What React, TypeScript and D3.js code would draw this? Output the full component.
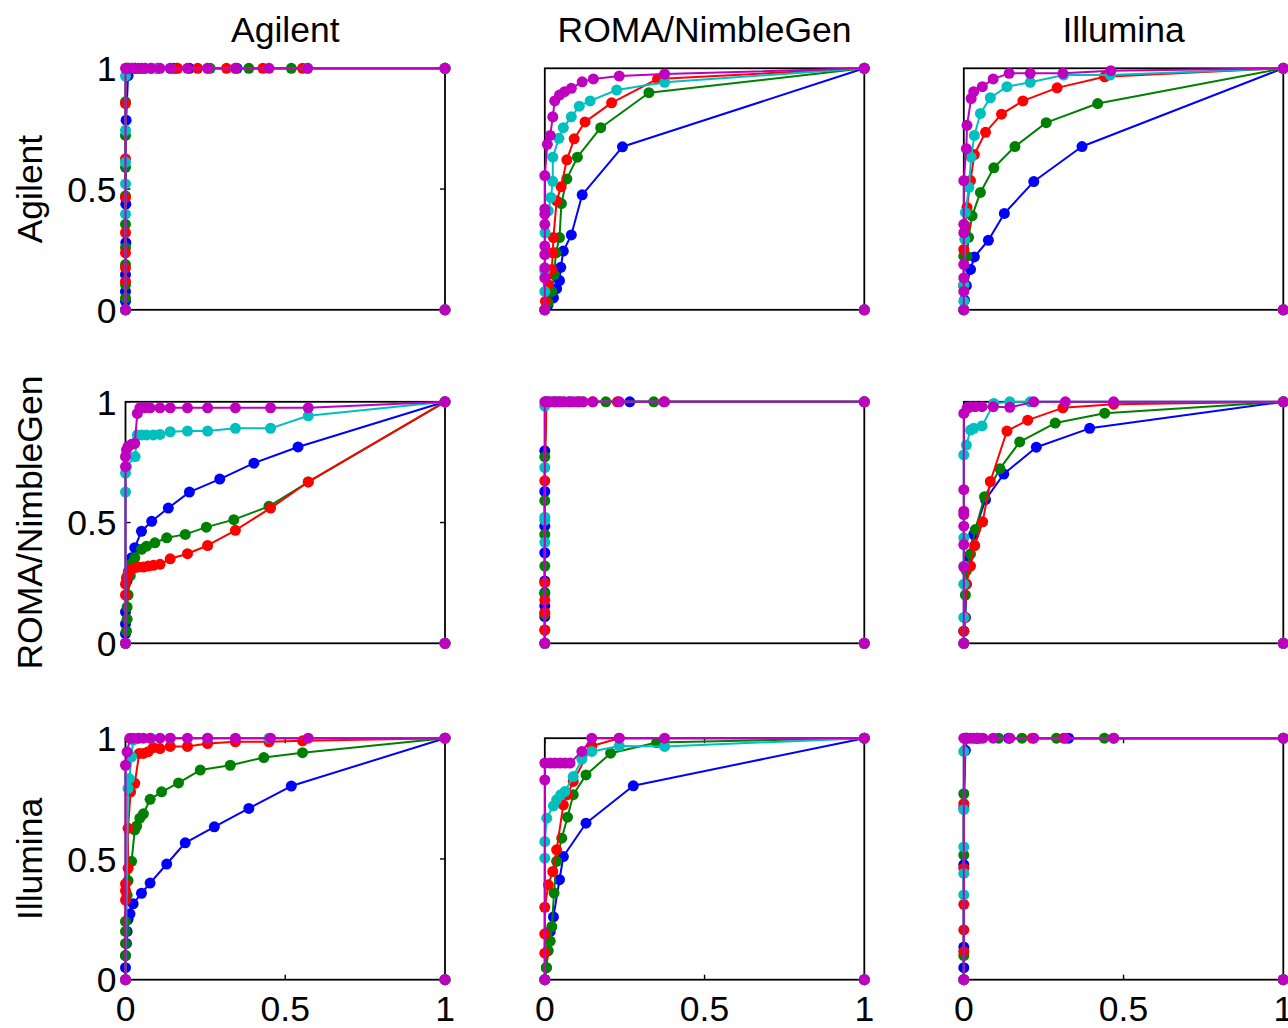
import React from "react";
import * as d3 from "d3";

type Pt = [number, number];

const platforms = ["Agilent", "ROMA/NimbleGen", "Illumina"];
const seriesColors = ["#0000ff", "#008000", "#ff0000", "#00bfbf", "#bf00bf"];
const tickValues = [0, 0.5, 1];
const tickLabels = ["0", "0.5", "1"];
const extraPoints: Pt[] = [[1, 0]];

// rows: y-axis platform, cols: title platform; each panel = [blue, green, red, cyan, magenta]
const P11: Pt[][] = [
  [[0,0],[0,0.035],[0,0.076],[0,0.146],[0.001,0.278],[0.001,0.4375],[0.002,0.785],[0.008,0.97],[0.01,1],[0.03,1],[0.06,1],[0.1,1],[0.15,1],[0.2,1],[0.349,1],[1,1]],
  [[0,0],[0,0.049],[0,0.104],[0,0.1875],[0,0.257],[0,0.354],[0,0.472],[0,0.59],[0,0.722],[0,0.861],[0.003,1],[0.02,1],[0.05,1],[0.1,1],[0.16,1],[0.265,1],[0.386,1],[0.519,1],[1,1]],
  [[0,0],[0,0.118],[0,0.174],[0,0.236],[0,0.319],[0,0.465],[0,0.625],[0,0.854],[0.003,1],[0.03,1],[0.08,1],[0.163,1],[0.226,1],[0.316,1],[0.43,1],[0.554,1],[1,1]],
  [[0,0],[0,0.396],[0,0.521],[0,0.611],[0,0.743],[0,0.968],[0.005,1],[0.04,1],[0.1,1],[0.14,1],[0.257,1],[0.344,1],[0.57,1],[1,1]],
  [[0,0],[0,1],[0.005,1],[0.01,1],[0.02,1],[0.03,1],[0.04,1],[0.05,1],[0.06,1],[0.08,1],[0.108,1],[0.14,1],[0.194,1],[0.257,1],[0.344,1],[0.449,1],[0.57,1],[1,1]],
];

const P12: Pt[][] = [
  [[0,0],[0.01,0.02],[0.027,0.049],[0.037,0.0875],[0.046,0.121],[0.05,0.176],[0.058,0.243],[0.083,0.31],[0.117,0.476],[0.243,0.675],[1,1]],
  [[0,0],[0.01,0.03],[0.022,0.076],[0.029,0.146],[0.035,0.236],[0.046,0.299],[0.052,0.44],[0.069,0.542],[0.102,0.632],[0.175,0.754],[0.326,0.899],[1,1]],
  [[0,0],[0.002,0.035],[0.011,0.104],[0.022,0.167],[0.025,0.236],[0.027,0.299],[0.037,0.451],[0.051,0.51],[0.069,0.621],[0.092,0.708],[0.126,0.778],[0.209,0.857],[0.353,0.956],[1,1]],
  [[0,0],[0,0.076],[0,0.16],[0.001,0.319],[0.011,0.41],[0.019,0.465],[0.025,0.532],[0.025,0.632],[0.044,0.71],[0.058,0.754],[0.083,0.799],[0.108,0.843],[0.142,0.865],[0.225,0.91],[0.375,0.942],[1,1]],
  [[0,0],[0,0.132],[0,0.174],[0,0.229],[0,0.264],[0,0.354],[0,0.396],[0,0.417],[0,0.556],[0.008,0.685],[0.017,0.722],[0.025,0.799],[0.031,0.865],[0.046,0.889],[0.062,0.903],[0.083,0.917],[0.117,0.944],[0.152,0.956],[0.233,0.968],[0.375,0.976],[1,1]],
];

const P13: Pt[][] = [
  [[0,0],[0.002,0.04],[0.008,0.1],[0.021,0.167],[0.033,0.219],[0.077,0.288],[0.127,0.399],[0.219,0.531],[0.37,0.676],[1,1]],
  [[0,0],[0,0.1],[0,0.222],[0.01,0.222],[0.015,0.3],[0.026,0.389],[0.052,0.486],[0.094,0.588],[0.16,0.676],[0.258,0.775],[0.419,0.854],[1,1]],
  [[0,0],[0,0.1],[0,0.25],[0.005,0.347],[0.01,0.424],[0.021,0.535],[0.033,0.643],[0.068,0.735],[0.118,0.81],[0.185,0.865],[0.292,0.919],[0.441,0.965],[1,1]],
  [[0,0],[0,0.035],[0,0.104],[0.003,0.292],[0.005,0.403],[0.016,0.507],[0.023,0.632],[0.033,0.722],[0.052,0.813],[0.083,0.878],[0.135,0.924],[0.208,0.942],[0.3125,0.972],[0.458,0.972],[1,1]],
  [[0,0],[0,0.076],[0,0.132],[0,0.188],[0,0.319],[0,0.354],[0,0.535],[0.008,0.667],[0.01,0.764],[0.023,0.875],[0.031,0.903],[0.058,0.924],[0.092,0.956],[0.142,0.979],[0.208,0.979],[0.31,0.979],[0.46,0.99],[1,1]],
];

const P21: Pt[][] = [
  [[0,0],[0,0.04],[0,0.08],[0,0.13],[0.003,0.2],[0.005,0.26],[0.01,0.3],[0.019,0.354],[0.029,0.396],[0.05,0.464],[0.082,0.505],[0.134,0.56],[0.2,0.626],[0.295,0.68],[0.402,0.746],[0.54,0.813],[1,1]],
  [[0,0],[0.003,0.05],[0.005,0.1],[0.005,0.15],[0.008,0.2],[0.015,0.28],[0.02,0.33],[0.029,0.354],[0.05,0.389],[0.066,0.402],[0.092,0.416],[0.129,0.437],[0.187,0.451],[0.253,0.481],[0.339,0.512],[0.449,0.567],[0.572,0.668],[1,1]],
  [[0,0],[0,0.2],[0,0.245],[0.003,0.272],[0.008,0.286],[0.014,0.3],[0.024,0.31],[0.04,0.316],[0.056,0.316],[0.071,0.32],[0.087,0.323],[0.108,0.327],[0.14,0.35],[0.194,0.371],[0.257,0.405],[0.344,0.468],[0.454,0.56],[0.572,0.668],[1,1]],
  [[0,0],[0,0.626],[0,0.705],[0.003,0.732],[0.03,0.773],[0.037,0.863],[0.05,0.863],[0.066,0.863],[0.087,0.863],[0.108,0.865],[0.14,0.876],[0.194,0.879],[0.257,0.879],[0.344,0.89],[0.454,0.89],[0.572,0.942],[1,1]],
  [[0,0],[0,0.732],[0,0.773],[0.003,0.801],[0.008,0.815],[0.019,0.824],[0.029,0.828],[0.037,0.952],[0.045,0.975],[0.061,0.975],[0.077,0.975],[0.108,0.975],[0.14,0.975],[0.194,0.975],[0.257,0.975],[0.344,0.975],[0.454,0.975],[0.572,0.975],[1,1]],
];

const P22: Pt[][] = [
  [[0,0],[0,0.11],[0,0.155],[0,0.21],[0,0.258],[0,0.375],[0,0.485],[0,0.629],[0,0.797],[0.005,1],[0.03,1],[0.08,1],[0.266,1],[1,1]],
  [[0,0],[0,0.055],[0,0.121],[0,0.206],[0,0.32],[0,0.451],[0,0.591],[0,0.772],[0.005,1],[0.04,1],[0.1,1],[0.191,1],[0.341,1],[1,1]],
  [[0,0],[0,0.055],[0,0.128],[0,0.179],[0,0.251],[0,0.673],[0.005,1],[0.05,1],[0.11,1],[0.15,1],[0.227,1],[0.3725,1],[1,1]],
  [[0,0],[0,0.418],[0,0.51],[0,0.522],[0,0.728],[0,0.982],[0.01,1],[0.06,1],[0.12,1],[1,1]],
  [[0,0],[0,1],[0.01,1],[0.02,1],[0.03,1],[0.045,1],[0.06,1],[0.075,1],[0.09,1],[0.105,1],[0.12,1],[0.15,1],[0.233,1],[0.375,1],[1,1]],
];

const P23: Pt[][] = [
  [[0,0],[0,0.05],[0.005,0.107],[0.008,0.245],[0.015,0.36],[0.031,0.451],[0.068,0.595],[0.125,0.701],[0.227,0.812],[0.394,0.89],[1,1]],
  [[0,0],[0.005,0.2],[0.008,0.3],[0.021,0.37],[0.036,0.471],[0.065,0.607],[0.113,0.723],[0.175,0.834],[0.286,0.912],[0.441,0.953],[1,1]],
  [[0,0],[0,0.05],[0.003,0.107],[0.008,0.245],[0.021,0.32],[0.034,0.405],[0.059,0.503],[0.083,0.67],[0.135,0.879],[0.2,0.924],[0.31,0.975],[0.469,0.99],[1,1]],
  [[0,0],[0,0.107],[0,0.245],[0,0.32],[0,0.437],[0,0.78],[0.008,0.821],[0.021,0.883],[0.031,0.89],[0.057,0.9],[0.094,0.993],[0.144,1],[0.208,1],[1,1]],
  [[0,0],[0,0.316],[0,0.409],[0,0.485],[0,0.533],[0,0.547],[0,0.636],[0,0.952],[0.01,0.973],[0.021,0.98],[0.036,0.98],[0.057,0.98],[0.092,0.98],[0.144,0.977],[0.219,1],[0.318,1],[0.469,1],[1,1]],
];

const P31: Pt[][] = [
  [[0,0],[0,0.05],[0,0.1],[0.003,0.15],[0.005,0.2],[0.008,0.25],[0.014,0.273],[0.024,0.314],[0.05,0.358],[0.077,0.4],[0.129,0.479],[0.187,0.567],[0.278,0.633],[0.386,0.709],[0.519,0.802],[1,1]],
  [[0,0],[0,0.1],[0,0.15],[0,0.2],[0,0.241],[0.005,0.35],[0.008,0.41],[0.019,0.49],[0.029,0.62],[0.035,0.636],[0.045,0.669],[0.056,0.687],[0.077,0.747],[0.113,0.778],[0.166,0.815],[0.234,0.868],[0.328,0.888],[0.433,0.92],[0.554,0.94],[1,1]],
  [[0,0],[0,0.33],[0,0.369],[0,0.397],[0.008,0.461],[0.008,0.627],[0.016,0.778],[0.029,0.813],[0.043,0.937],[0.056,0.937],[0.071,0.944],[0.087,0.961],[0.108,0.957],[0.14,0.966],[0.194,0.966],[0.257,0.978],[0.344,0.985],[0.449,0.985],[0.554,0.989],[1,1]],
  [[0,0],[0.008,0.792],[0.012,0.833],[0.019,0.923],[0.024,0.992],[0.04,1],[0.08,1],[0.14,1],[0.257,1],[0.449,1],[1,1]],
  [[0,0],[0,0.888],[0.005,0.943],[0.014,1],[0.024,1],[0.04,1],[0.056,1],[0.077,1],[0.108,1],[0.14,1],[0.194,1],[0.257,1],[0.344,1],[0.454,1],[0.572,1],[1,1]],
];

const P32: Pt[][] = [
  [[0,0],[0.005,0.05],[0.01,0.12],[0.017,0.2],[0.027,0.26],[0.046,0.414],[0.058,0.51],[0.129,0.648],[0.277,0.803],[1,1]],
  [[0,0],[0.005,0.05],[0.01,0.12],[0.017,0.16],[0.022,0.22],[0.029,0.359],[0.037,0.49],[0.053,0.586],[0.071,0.673],[0.089,0.766],[0.129,0.848],[0.206,0.938],[0.35,0.982],[1,1]],
  [[0,0],[0,0.11],[0,0.19],[0,0.3],[0.011,0.393],[0.025,0.448],[0.037,0.538],[0.058,0.724],[0.071,0.766],[0.089,0.821],[0.147,0.968],[0.233,1],[1,1]],
  [[0,0],[0,0.503],[0,0.572],[0.006,0.669],[0.027,0.72],[0.037,0.745],[0.05,0.766],[0.063,0.779],[0.089,0.841],[0.116,0.913],[0.147,0.945],[0.233,0.968],[0.375,0.966],[1,1]],
  [[0,0],[0,0.827],[0,0.897],[0.017,0.897],[0.032,0.897],[0.048,0.897],[0.063,0.897],[0.079,0.897],[0.116,0.945],[0.147,1],[0.233,1],[0.375,1],[1,1]],
];

const P33: Pt[][] = [
  [[0,0],[0,0.05],[0,0.135],[0,0.476],[0,0.711],[0.005,0.95],[0.01,1],[0.04,1],[0.14,1],[0.328,1],[1,1]],
  [[0,0],[0,0.1],[0,0.516],[0,0.77],[0.005,1],[0.04,1],[0.109,1],[0.182,1],[0.29,1],[0.44,1],[1,1]],
  [[0,0],[0,0.117],[0,0.206],[0,0.312],[0,0.462],[0,0.729],[0.005,1],[0.05,1],[0.214,1],[0.3125,1],[0.469,1],[1,1]],
  [[0,0],[0,0.351],[0,0.44],[0,0.55],[0,0.704],[0,0.945],[0.005,1],[0.03,1],[1,1]],
  [[0,0],[0,1],[0.01,1],[0.02,1],[0.03,1],[0.045,1],[0.06,1],[0.092,1],[0.144,1],[0.219,1],[0.318,1],[0.469,1],[1,1]],
];

const panels: Pt[][][][] = [
  [P11, P12, P13],
  [P21, P22, P23],
  [P31, P32, P33],
];

const W = 1288;
const H = 1028;
const colLeft = [125.5, 544.8, 963.8];
const rowTop = [68.3, 401.8, 738.2];
const pw = 319.5;
const ph = 241.5;
const FONT = "'Liberation Sans', Arial, Helvetica, sans-serif";
const FS = 35.5;

function Panel({ data, row, col }: { data: Pt[][]; row: number; col: number }) {
  const x = d3.scaleLinear().domain([0, 1]).range([0, pw]);
  const y = d3.scaleLinear().domain([0, 1]).range([ph, 0]);
  const line = d3.line<Pt>().x((d) => x(d[0])).y((d) => y(d[1]));
  const tl = 5;
  const showY = col === 0;
  const showX = row === 2;
  return (
    <g transform={`translate(${colLeft[col]},${rowTop[row]})`}>
      <rect x={0} y={0} width={pw} height={ph} fill="none" stroke="#000" strokeWidth={1.8} />
      {showY &&
        tickValues.map((t, i) => (
          <g key={"y" + i}>
            <line x1={0} x2={tl} y1={y(t)} y2={y(t)} stroke="#000" strokeWidth={1.4} />
            <line x1={pw} x2={pw - tl} y1={y(t)} y2={y(t)} stroke="#000" strokeWidth={1.4} />
            <text
              x={-9}
              y={y(t)}
              dy="0.36em"
              textAnchor="end"
              fontFamily={FONT}
              fontSize={FS}
              fill="#000"
            >
              {tickLabels[i]}
            </text>
          </g>
        ))}
      {showX &&
        tickValues.map((t, i) => (
          <g key={"x" + i}>
            <line x1={x(t)} x2={x(t)} y1={ph} y2={ph - tl} stroke="#000" strokeWidth={1.4} />
            <line x1={x(t)} x2={x(t)} y1={0} y2={tl} stroke="#000" strokeWidth={1.4} />
            <text
              x={x(t)}
              y={ph + 41}
              textAnchor="middle"
              fontFamily={FONT}
              fontSize={FS}
              fill="#000"
            >
              {tickLabels[i]}
            </text>
          </g>
        ))}
      {data.map((s, si) => (
        <g key={si}>
          <path d={line(s) || ""} fill="none" stroke={seriesColors[si]} strokeWidth={2} strokeLinejoin="round" />
          {s.concat(extraPoints).map((p, pi) => (
            <circle key={pi} cx={x(p[0])} cy={y(p[1])} r={5.5} fill={seriesColors[si]} />
          ))}
        </g>
      ))}
    </g>
  );
}

export default function App() {
  return (
    <svg
      width={W}
      height={H}
      style={{ position: "absolute", left: 0, top: 0, background: "#fff" }}
    >
      <rect x={0} y={0} width={W} height={H} fill="#fff" />
      {platforms.map((p, c) => (
        <text
          key={"t" + c}
          x={colLeft[c] + pw / 2}
          y={42}
          textAnchor="middle"
          fontFamily={FONT}
          fontSize={FS}
          fill="#000"
        >
          {p}
        </text>
      ))}
      {platforms.map((p, r) => (
        <text
          key={"r" + r}
          transform={`translate(42,${rowTop[r] + ph / 2}) rotate(-90)`}
          textAnchor="middle"
          fontFamily={FONT}
          fontSize={FS}
          fill="#000"
        >
          {p}
        </text>
      ))}
      {panels.map((rowArr, r) =>
        rowArr.map((d, c) => <Panel key={`${r}-${c}`} data={d} row={r} col={c} />)
      )}
    </svg>
  );
}
